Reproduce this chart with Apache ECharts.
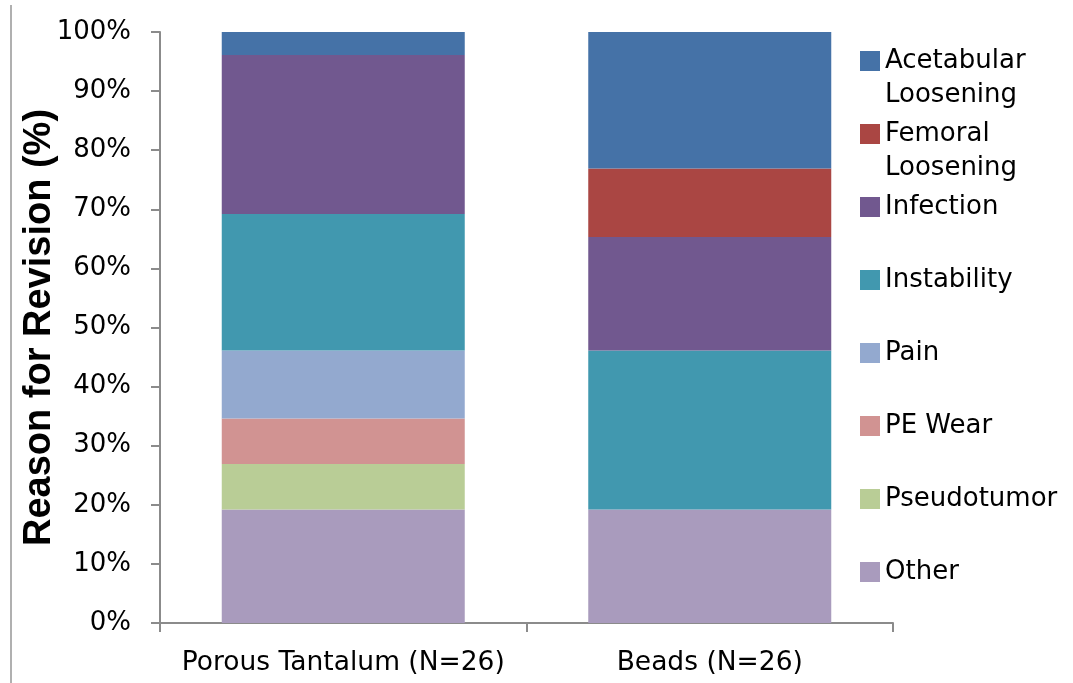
<!DOCTYPE html>
<html>
<head>
<meta charset="utf-8">
<script src="https://cdn.jsdelivr.net/npm/echarts@6/dist/echarts.min.js"></script>
<style>
  html, body { margin: 0; padding: 0; background: #fff; }
  #chart { width: 1073px; height: 683px; }
</style>
</head>
<body>
<div id="chart"></div>
<script>
// Revision reasons, share of each cohort (%)
const categories = ['Porous Tantalum (N=26)', 'Beads (N=26)'];
const other = [19.2, 19.2];
const pseudotumor = [7.7, 0];
const peWear = [7.7, 0];
const pain = [11.5, 0];
const instability = [23.1, 26.9];
const infection = [26.9, 19.2];
const femoralLoosening = [0, 11.6];
const acetabularLoosening = [3.9, 23.1];
const yTicks = [0, 10, 20, 30, 40, 50, 60, 70, 80, 90, 100];

// stacked bottom to top
const stack = [
  { name: 'Other', data: other, color: '#a99bbd' },
  { name: 'Pseudotumor', data: pseudotumor, color: '#b9cd96' },
  { name: 'PE Wear', data: peWear, color: '#d19392' },
  { name: 'Pain', data: pain, color: '#93a9cf' },
  { name: 'Instability', data: instability, color: '#4198af' },
  { name: 'Infection', data: infection, color: '#71588f' },
  { name: 'Femoral Loosening', data: femoralLoosening, color: '#aa4643' },
  { name: 'Acetabular Loosening', data: acetabularLoosening, color: '#4572a7' }
];

const FONT = 'DejaVu Sans';
const AXIS_GREY = '#8b8b8b';
const LEGEND_LH = 34;
const MARK = 20;

// legend entries listed top to bottom, one small legend per entry;
// two-word "... Loosening" names wrap, first line level with the swatch
const legendNames = stack.map(s => s.name).reverse();
const legendMarkerTops = [51, 124, 197, 270, 343, 416, 489, 562];
const legends = legendNames.map((name, i) => {
  const twoLine = name.indexOf(' Loosening') > 0;
  const mid = legendMarkerTops[i] + MARK / 2;
  return {
    data: [name],
    orient: 'vertical',
    left: 860,
    top: twoLine ? mid - 1.5 * LEGEND_LH : mid - LEGEND_LH / 2,
    padding: 0,
    itemWidth: MARK,
    itemHeight: MARK,
    icon: 'rect',
    selectedMode: false,
    formatter: n => (n.indexOf(' Loosening') > 0 ? ' \n' + n.replace(' Loosening', '\nLoosening') : n),
    textStyle: {
      fontFamily: FONT,
      fontSize: 26,
      color: '#000',
      lineHeight: LEGEND_LH
    }
  };
});

const chart = echarts.init(document.getElementById('chart'), null, { renderer: 'canvas' });
chart.setOption({
  animation: false,
  backgroundColor: '#fff',
  graphic: [{
    type: 'line',
    shape: { x1: 11, y1: 5, x2: 11, y2: 683 },
    style: { stroke: '#b0b0b0', lineWidth: 2 }
  }],
  grid: { left: 160, right: 180, top: 32, bottom: 60, containLabel: false },
  legend: legends,
  xAxis: {
    type: 'category',
    data: categories,
    boundaryGap: true,
    axisLine: { lineStyle: { color: AXIS_GREY, width: 2 } },
    axisTick: { show: true, length: 9, lineStyle: { color: AXIS_GREY, width: 2 } },
    axisLabel: { interval: 0, fontFamily: FONT, fontSize: 26.5, color: '#000', margin: 27 }
  },
  yAxis: {
    type: 'value',
    min: yTicks[0],
    max: yTicks[yTicks.length - 1],
    interval: 10,
    name: 'Reason for Revision (%)',
    nameLocation: 'middle',
    nameGap: 101,
    nameMoveOverlap: false,
    nameRotate: 90,
    nameTextStyle: { fontFamily: 'Liberation Sans', fontWeight: 'bold', fontSize: 38, color: '#000' },
    axisLine: { show: true, lineStyle: { color: AXIS_GREY, width: 2 } },
    axisTick: { show: true, length: 9, lineStyle: { color: AXIS_GREY, width: 2 } },
    splitLine: { show: false },
    axisLabel: { fontFamily: FONT, fontSize: 26, color: '#000', margin: 29, formatter: '{value}%' }
  },
  series: stack.map(s => ({
    name: s.name,
    type: 'bar',
    stack: 'total',
    barWidth: 243,
    data: s.data,
    itemStyle: { color: s.color },
    emphasis: { disabled: true }
  }))
});
</script>
</body>
</html>
